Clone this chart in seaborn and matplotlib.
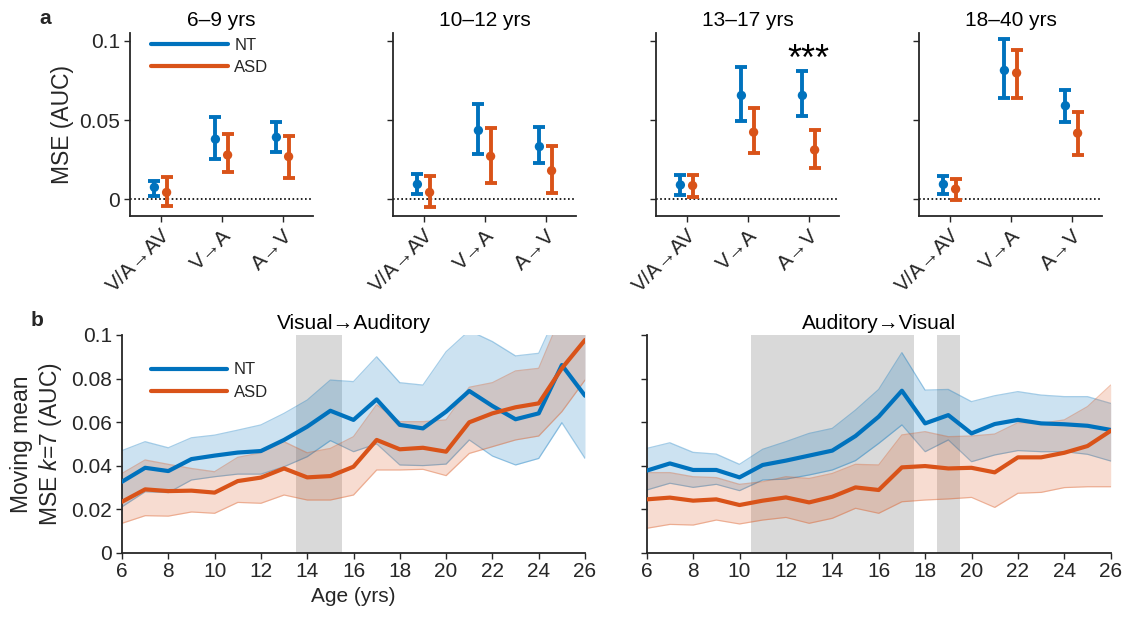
import numpy as np
import pandas as pd
import matplotlib
matplotlib.use("Agg")
import matplotlib.pyplot as plt
import seaborn as sns

# ---------------- data: panel a ----------------
groups = ["6–9 yrs", "10–12 yrs", "13–17 yrs", "18–40 yrs"]
conditions = ["V/A→AV", "V→A", "A→V"]
nt_mean = [[0.0076, 0.0380, 0.0392], [0.0095, 0.0435, 0.0333],
           [0.0091, 0.0656, 0.0656], [0.0095, 0.0814, 0.0591]]
nt_low = [[0.0021, 0.0255, 0.0302], [0.0032, 0.0287, 0.0228],
          [0.0027, 0.0492, 0.0528], [0.0034, 0.0637, 0.0487]]
nt_high = [[0.0116, 0.0517, 0.0490], [0.0160, 0.0603, 0.0456],
           [0.0154, 0.0833, 0.0808], [0.0150, 0.1009, 0.0692]]
asd_mean = [[0.0044, 0.0280, 0.0270], [0.0044, 0.0272, 0.0181],
            [0.0087, 0.0424, 0.0312], [0.0065, 0.0798, 0.0418]]
asd_low = [[-0.0042, 0.0171, 0.0137], [-0.0046, 0.0101, 0.0038],
           [0.0017, 0.0295, 0.0200], [-0.0006, 0.0637, 0.0279]]
asd_high = [[0.0139, 0.0410, 0.0399], [0.0148, 0.0450, 0.0338],
            [0.0154, 0.0578, 0.0439], [0.0129, 0.0945, 0.0551]]

# ---------------- data: panel b ----------------
ages = list(range(6, 27))
# Visual -> Auditory
va_nt = [0.0326, 0.0390, 0.0375, 0.0430, 0.0446, 0.0460, 0.0467, 0.0518, 0.0579, 0.0652, 0.0610,
         0.0704, 0.0587, 0.0571, 0.0648, 0.0743, 0.0674, 0.0613, 0.0640, 0.0862, 0.0721]
va_nt_hi = [0.0469, 0.0510, 0.0482, 0.0528, 0.0540, 0.0563, 0.0587, 0.0640, 0.0701, 0.0793, 0.0786,
            0.0900, 0.0781, 0.0770, 0.0923, 0.1020, 0.0970, 0.0904, 0.0916, 0.1150, 0.1200]
va_nt_lo = [0.0211, 0.0280, 0.0276, 0.0334, 0.0349, 0.0361, 0.0361, 0.0395, 0.0441, 0.0515, 0.0464,
            0.0500, 0.0403, 0.0400, 0.0407, 0.0518, 0.0444, 0.0403, 0.0433, 0.0597, 0.0433]
va_asd = [0.0234, 0.0291, 0.0283, 0.0285, 0.0276, 0.0329, 0.0345, 0.0387, 0.0346, 0.0352, 0.0395,
          0.0518, 0.0475, 0.0482, 0.0464, 0.0599, 0.0640, 0.0668, 0.0686, 0.0847, 0.0977]
va_asd_hi = [0.0364, 0.0426, 0.0406, 0.0387, 0.0372, 0.0438, 0.0459, 0.0510, 0.0459, 0.0479, 0.0533,
             0.0680, 0.0602, 0.0602, 0.0610, 0.0760, 0.0781, 0.0835, 0.0847, 0.1100, 0.1200]
va_asd_lo = [0.0135, 0.0170, 0.0168, 0.0187, 0.0181, 0.0231, 0.0227, 0.0265, 0.0242, 0.0242, 0.0265,
             0.0380, 0.0380, 0.0383, 0.0354, 0.0456, 0.0487, 0.0518, 0.0536, 0.0648, 0.0793]
# Auditory -> Visual
av_nt = [0.0377, 0.0410, 0.0380, 0.0380, 0.0346, 0.0403, 0.0423, 0.0446, 0.0469, 0.0536, 0.0625,
         0.0744, 0.0594, 0.0632, 0.0548, 0.0591, 0.0610, 0.0594, 0.0590, 0.0583, 0.0564]
av_nt_hi = [0.0479, 0.0505, 0.0461, 0.0453, 0.0406, 0.0475, 0.0510, 0.0548, 0.0571, 0.0655, 0.0750,
            0.0919, 0.0747, 0.0750, 0.0694, 0.0721, 0.0740, 0.0724, 0.0717, 0.0717, 0.0686]
av_nt_lo = [0.0288, 0.0319, 0.0300, 0.0314, 0.0285, 0.0334, 0.0338, 0.0357, 0.0380, 0.0423, 0.0502,
            0.0587, 0.0464, 0.0518, 0.0418, 0.0449, 0.0469, 0.0464, 0.0464, 0.0452, 0.0421]
av_asd = [0.0245, 0.0253, 0.0239, 0.0245, 0.0219, 0.0239, 0.0254, 0.0231, 0.0257, 0.0300, 0.0288,
          0.0392, 0.0398, 0.0387, 0.0390, 0.0369, 0.0438, 0.0438, 0.0459, 0.0490, 0.0560]
av_asd_hi = [0.0368, 0.0368, 0.0349, 0.0345, 0.0314, 0.0326, 0.0349, 0.0341, 0.0364, 0.0406, 0.0403,
             0.0541, 0.0556, 0.0533, 0.0536, 0.0545, 0.0597, 0.0594, 0.0610, 0.0671, 0.0770]
av_asd_lo = [0.0112, 0.0130, 0.0127, 0.0150, 0.0132, 0.0150, 0.0162, 0.0135, 0.0158, 0.0204, 0.0181,
             0.0234, 0.0242, 0.0247, 0.0254, 0.0208, 0.0273, 0.0277, 0.0299, 0.0303, 0.0303]
va_sig = [(13.5, 15.5)]
av_sig = [(10.5, 17.5), (18.5, 19.5)]

NT_C = "#0072BD"
ASD_C = "#D95319"
AX_C = "#262626"

sns.set_theme(style="ticks")
plt.rcParams["font.family"] = ["Liberation Sans", "DejaVu Sans"]
plt.rcParams["mathtext.fontset"] = "custom"
plt.rcParams["mathtext.it"] = "Liberation Sans:italic"
plt.rcParams["mathtext.rm"] = "Liberation Sans"
FS = 15
LFS = 16.5
LEGFS = 12

fig = plt.figure(figsize=(11.26, 6.22), dpi=100)
W, H = 1126, 622


def px_axes(left, top, right, bottom):
    return fig.add_axes([left / W, 1 - bottom / H, (right - left) / W, (bottom - top) / H])


def style_axes(ax):
    for s in ["top", "right"]:
        ax.spines[s].set_visible(False)
    for s in ["left", "bottom"]:
        ax.spines[s].set_color(AX_C)
        ax.spines[s].set_linewidth(1.3)
    ax.tick_params(direction="out", length=4, width=1.0, color=AX_C,
                   labelsize=FS, labelcolor=AX_C, pad=3)
    ax.set_facecolor("none")


# ---------------- panel a ----------------
lefts = [130, 393, 656, 919]
xpos = np.arange(len(conditions))
off = 0.1
for gi, g in enumerate(groups):
    ax = px_axes(lefts[gi], 33, lefts[gi] + 183, 216)
    style_axes(ax)
    ax.axhline(0, color="black", lw=1.2, ls=(0, (1, 1.5)), zorder=1)
    for mean, lo, hi, col, dx, lab in [(nt_mean, nt_low, nt_high, NT_C, -off, "NT"),
                                      (asd_mean, asd_low, asd_high, ASD_C, off, "ASD")]:
        m = np.array(mean[gi]); l = np.array(lo[gi]); h = np.array(hi[gi])
        ax.errorbar(xpos + dx, m, yerr=[m - l, h - m], fmt="none", ecolor=col,
                    elinewidth=2.8, capsize=4.4, capthick=2.8, zorder=3)
        df = pd.DataFrame({"x": xpos + dx, "y": m})
        sns.scatterplot(data=df, x="x", y="y", ax=ax, color=col, s=45,
                        edgecolor="none", zorder=4, legend=False)
        if gi == 0:
            ax.plot([], [], color=col, lw=3, label=lab)
    ax.set_xlim(-0.5, 2.5)
    ax.set_ylim(-0.0105, 0.105)
    ax.set_yticks([0, 0.05, 0.1])
    ax.set_xticks(xpos)
    ax.set_xticklabels(conditions, rotation=45, ha="right", rotation_mode="anchor")
    ax.set_xlabel("")
    ax.set_title(g, fontsize=FS, color="black", pad=5)
    if gi == 0:
        ax.set_yticklabels(["0", "0.05", "0.1"])
        ax.set_ylabel("MSE (AUC)", fontsize=LFS, color=AX_C, labelpad=4)
        ax.legend(loc="upper left", bbox_to_anchor=(0.06, 1.03), frameon=False,
                  fontsize=LEGFS, handlelength=4.6, handletextpad=0.4,
                  labelspacing=0.45, borderaxespad=0.2)
    else:
        ax.set_yticklabels([])
        ax.set_ylabel("")
    if gi == 2:
        ax.text(2, 0.0875, "***", ha="center", va="center", fontsize=26, color="black")

fig.text(45 / W, 1 - 19 / H, "a", fontsize=15, fontweight="bold", ha="center", va="center")
fig.text(37 / W, 1 - 321 / H, "b", fontsize=15, fontweight="bold", ha="center", va="center")

# ---------------- panel b ----------------
panels = [
    (122, 585, "Visual→Auditory", va_nt, va_nt_lo, va_nt_hi, va_asd, va_asd_lo, va_asd_hi, va_sig),
    (646.7, 1110.7, "Auditory→Visual", av_nt, av_nt_lo, av_nt_hi, av_asd, av_asd_lo, av_asd_hi, av_sig),
]
for pi, (l, r, title, nt, ntl, nth, asd, asdl, asdh, sig) in enumerate(panels):
    ax = px_axes(l, 335, r, 552.7)
    style_axes(ax)
    for a0, a1 in sig:
        ax.axvspan(a0, a1, color="#d9d9d9", lw=0, zorder=0)
    for mean, lo, hi, col, lab in [(nt, ntl, nth, NT_C, "NT"), (asd, asdl, asdh, ASD_C, "ASD")]:
        ax.fill_between(ages, lo, hi, color=col, alpha=0.2, lw=0, zorder=1)
        ax.plot(ages, lo, color=col, alpha=0.35, lw=0.9, zorder=1)
        ax.plot(ages, hi, color=col, alpha=0.35, lw=0.9, zorder=1)
    df = pd.DataFrame({"age": ages * 2, "mse": list(nt) + list(asd),
                       "group": ["NT"] * len(ages) + ["ASD"] * len(ages)})
    sns.lineplot(data=df, x="age", y="mse", hue="group", palette={"NT": NT_C, "ASD": ASD_C},
                 lw=3, ax=ax, legend=(pi == 0), zorder=3)
    ax.set_xlim(6, 26)
    ax.set_ylim(0, 0.1)
    ax.set_xticks(range(6, 27, 2))
    ax.set_yticks([0, 0.02, 0.04, 0.06, 0.08, 0.1])
    ax.set_title(title, fontsize=FS, color="black", pad=4)
    if pi == 0:
        ax.set_yticklabels(["0", "0.02", "0.04", "0.06", "0.08", "0.1"])
        ax.set_ylabel("Moving mean\nMSE $\\it{k}$=7 (AUC)", fontsize=LFS, color=AX_C, labelpad=5)
        ax.set_xlabel("Age (yrs)", fontsize=FS, color=AX_C, labelpad=4)
        ax.legend(loc="upper left", bbox_to_anchor=(0.04, 0.92), frameon=False,
                  fontsize=LEGFS, handlelength=4.6, handletextpad=0.4,
                  labelspacing=0.45, borderaxespad=0.2, title=None)
    else:
        ax.set_yticklabels([])
        ax.set_ylabel("")
        ax.set_xlabel("")

fig.savefig("out.png", dpi=100)
